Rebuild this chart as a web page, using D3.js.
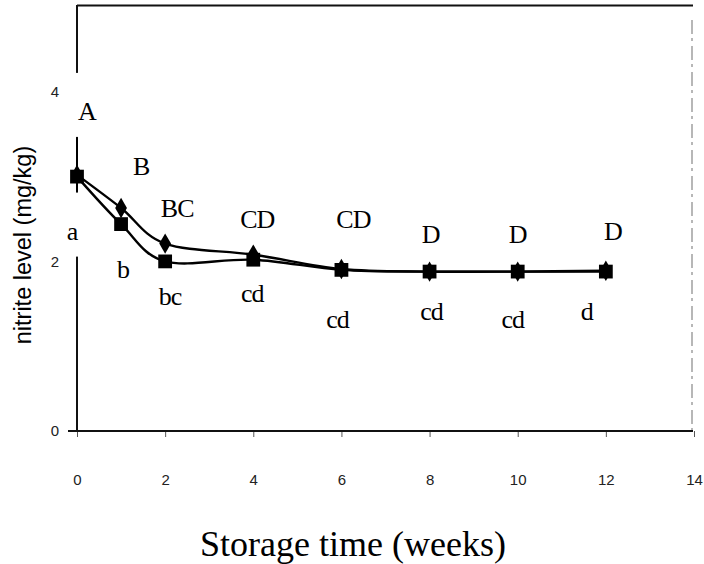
<!DOCTYPE html>
<html>
<head>
<meta charset="utf-8">
<script src="https://cdn.jsdelivr.net/npm/d3@7"></script>
<style>
  html, body { margin: 0; padding: 0; background: #fff; }
  svg { display: block; }
</style>
</head>
<body>
<svg id="chart" width="704" height="564"></svg>
<script>
// Storage time in weeks
const weeks = [0, 1, 2, 4, 6, 8, 10, 12];
// Nitrite level (mg/kg), two treatments
const upperValues = [3.02, 2.63, 2.21, 2.08, 1.91, 1.88, 1.88, 1.89];
const lowerValues = [3.00, 2.44, 2.00, 2.02, 1.90, 1.88, 1.88, 1.88];
// Error bar extents (mg/kg) above and below the mean
const errUp   = [0.44, 0.05, 0.05, 0.05, 0.05, 0.06, 0.06, 0.04];
const errDown = [0.18, 0.05, 0.05, 0.05, 0.05, 0.06, 0.06, 0.04];
// Significance letters
const upperLetters = ["A", "B", "BC", "CD", "CD", "D", "D", "D"];
const lowerLetters = ["a", "b", "bc", "cd", "cd", "cd", "cd", "d"];
// Axis ticks
const xTicks = [0, 2, 4, 6, 8, 10, 12, 14];
const yTicks = [0, 2, 4];

// Layout: label nudges relative to their marker (px)
const upperNudge = [[10, -55], [20, -33], [12, -27], [4, -27], [12, -41], [1, -29], [0, -29], [7, -31]];
const lowerNudge = [[-5, 63], [2, 54], [5, 44], [-1, 42], [-4, 58], [2, 48], [-5, 56], [-19, 48]];

const svg = d3.select("#chart");
const x = d3.scaleLinear().domain([0, 14]).range([77, 694]);
const y = d3.scaleLinear().domain([0, 5]).range([431, 7]);

const axisG = svg.append("g");

// frame: top edge and faint right edge
axisG.append("line")
  .attr("x1", x(0)).attr("x2", 693)
  .attr("y1", y(5) - 1.5).attr("y2", y(5) - 1.5)
  .attr("stroke", "#111").attr("stroke-width", 2);
axisG.append("line")
  .attr("x1", 692).attr("x2", 692)
  .attr("y1", 20).attr("y2", y(0))
  .attr("stroke", "#888").attr("stroke-width", 1.2)
  .attr("stroke-dasharray", "14,4,3,5");

// y axis
const yAxis = axisG.append("g")
  .attr("transform", `translate(${x(0)},0)`)
  .call(d3.axisLeft(y).tickValues(yTicks).tickFormat(d3.format("d")).tickSize(0).tickPadding(18));
yAxis.select(".domain").remove();
yAxis.append("line")
  .attr("x1", 0).attr("x2", 0)
  .attr("y1", y(5) - 2).attr("y2", y(0))
  .attr("stroke", "#111").attr("stroke-width", 2);
yAxis.selectAll("text")
  .attr("font-family", "Liberation Sans, Arial, sans-serif")
  .attr("font-size", 15).attr("fill", "#222");

// x axis
const xAxis = axisG.append("g")
  .attr("transform", `translate(0,${y(0)})`)
  .call(d3.axisBottom(x).tickValues(xTicks).tickFormat(d3.format("d")).tickSize(6).tickPadding(37));
xAxis.select(".domain").remove();
xAxis.append("line")
  .attr("x1", x(0) - 9).attr("x2", 693)
  .attr("y1", 0).attr("y2", 0)
  .attr("stroke", "#111").attr("stroke-width", 2);
xAxis.selectAll(".tick line").attr("stroke", "#555").attr("stroke-width", 1);
xAxis.selectAll("text")
  .attr("font-family", "Liberation Sans, Arial, sans-serif")
  .attr("font-size", 15).attr("fill", "#222");

// axis titles
svg.append("text")
  .attr("transform", `translate(31,245) rotate(-90)`)
  .attr("text-anchor", "middle")
  .attr("font-family", "Liberation Sans, Arial, sans-serif")
  .attr("font-size", 23.5).attr("fill", "#000")
  .text("nitrite level (mg/kg)");
svg.append("text")
  .attr("x", 353).attr("y", 556)
  .attr("text-anchor", "middle")
  .attr("font-family", "Liberation Serif, Times New Roman, serif")
  .attr("font-size", 36).attr("fill", "#000")
  .text("Storage time (weeks)");

// significance letters on white boxes (they mask the axis lines)
function letters(vals, labels, nudge) {
  const g = svg.append("g");
  labels.forEach((t, i) => {
    const cx = x(weeks[i]) + nudge[i][0];
    const by = y(vals[i]) + nudge[i][1];
    const txt = g.append("text")
      .attr("x", cx).attr("y", by)
      .attr("text-anchor", "middle")
      .attr("font-family", "Liberation Serif, Times New Roman, serif")
      .attr("font-size", 26).attr("letter-spacing", -1)
      .attr("fill", "#000").text(t);
    const w = txt.node().getComputedTextLength();
    g.insert("rect", "text")
      .attr("x", cx - w / 2 - 6).attr("y", by - 47)
      .attr("width", w + 12).attr("height", 64)
      .attr("fill", "#fff");
  });
}
letters(upperValues, upperLetters, upperNudge);
letters(lowerValues, lowerLetters, lowerNudge);

// series lines (smoothed)
const line = d3.line()
  .x((d, i) => x(weeks[i]))
  .y(d => y(d))
  .curve(d3.curveCatmullRom.alpha(0));
[upperValues, lowerValues].forEach(vals => {
  svg.append("path")
    .attr("d", line(vals))
    .attr("fill", "none")
    .attr("stroke", "#000")
    .attr("stroke-width", 2.4);
});

// error bars
[upperValues, lowerValues].forEach(vals => {
  svg.append("g").selectAll("line")
    .data(vals).join("line")
    .attr("x1", (d, i) => x(weeks[i])).attr("x2", (d, i) => x(weeks[i]))
    .attr("y1", (d, i) => y(d + errUp[i])).attr("y2", (d, i) => y(d - errDown[i]))
    .attr("stroke", "#000").attr("stroke-width", 2);
});

// markers
svg.append("g").selectAll("path")
  .data(upperValues).join("path")
  .attr("transform", (d, i) => `translate(${x(weeks[i])},${y(d)})`)
  .attr("d", d3.symbol(d3.symbolDiamond, 120))
  .attr("fill", "#000");
svg.append("g").selectAll("path")
  .data(lowerValues).join("path")
  .attr("transform", (d, i) => `translate(${x(weeks[i])},${y(d)})`)
  .attr("d", d3.symbol(d3.symbolSquare, 190))
  .attr("fill", "#000");
</script>
</body>
</html>
